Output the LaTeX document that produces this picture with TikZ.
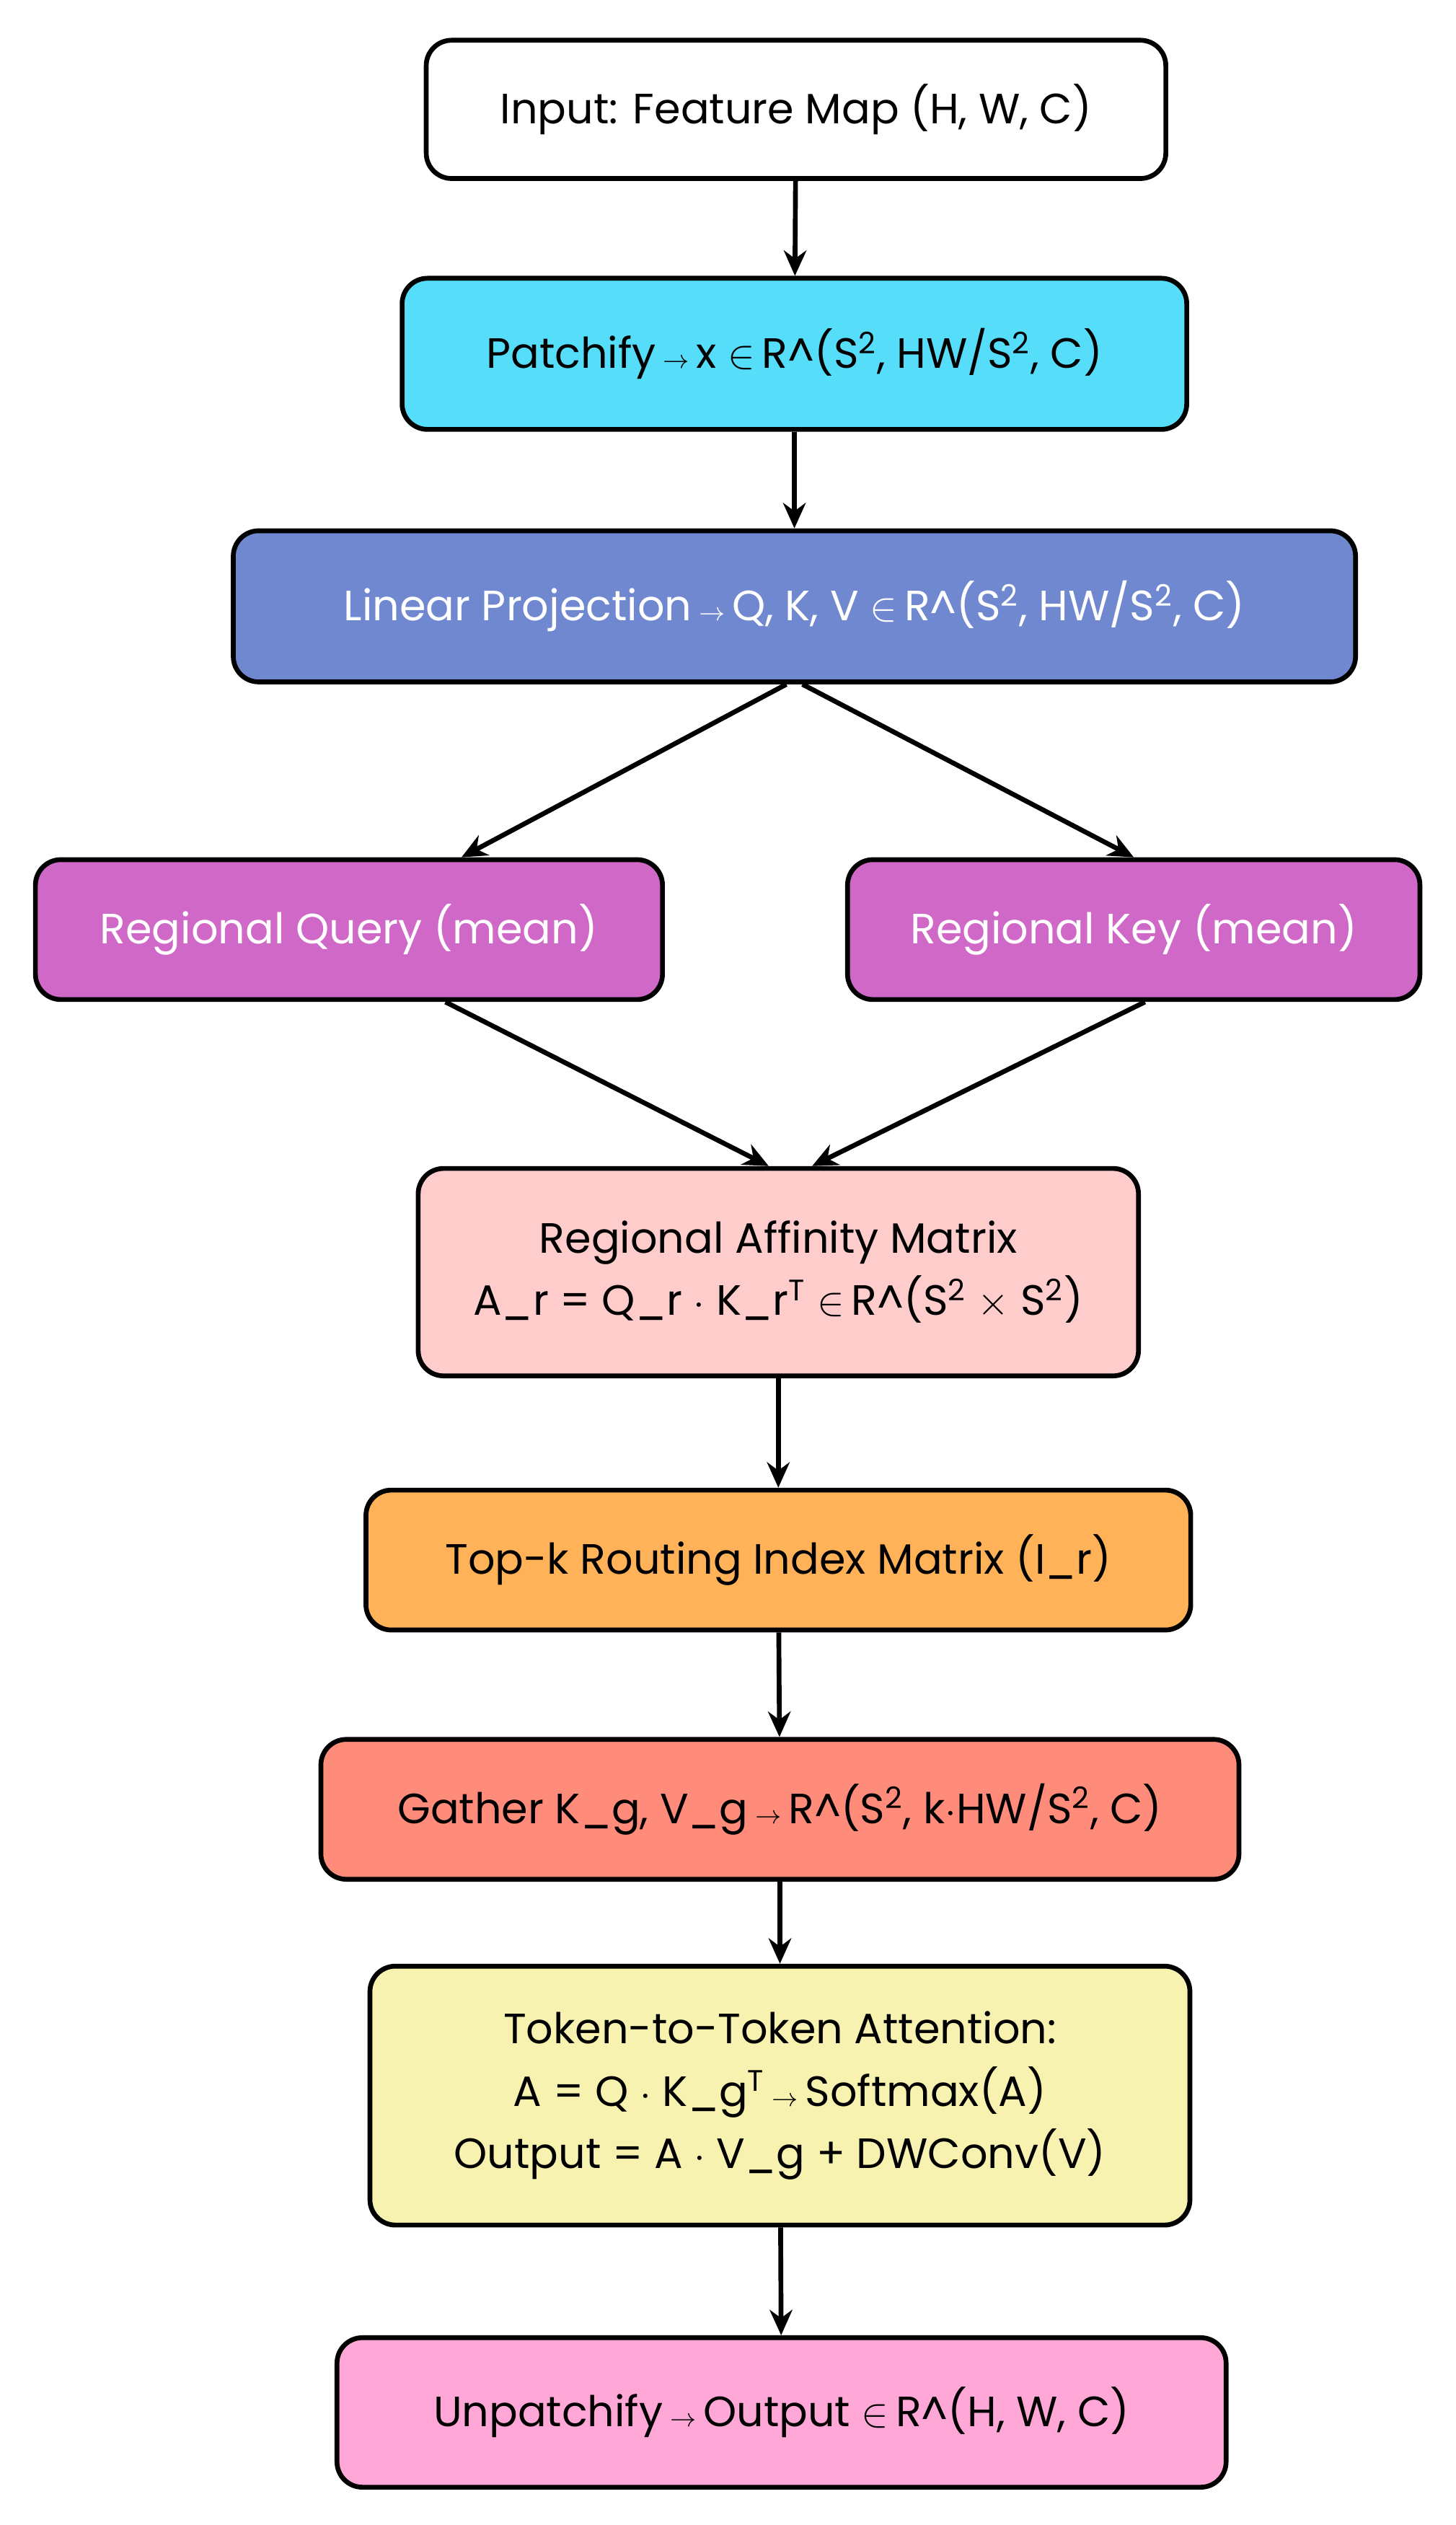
\documentclass[tikz,border=0pt]{standalone}
\usepackage{fontspec}
\setmainfont{Poppins}
\usetikzlibrary{arrows.meta}
\definecolor{cPatch}{HTML}{55DDF9}
\definecolor{cLin}{HTML}{7088D0}
\definecolor{cReg}{HTML}{D068C8}
\definecolor{cAff}{HTML}{FFCCCC}
\definecolor{cTop}{HTML}{FFB257}
\definecolor{cGat}{HTML}{FF8C7A}
\definecolor{cTok}{HTML}{F7F2B0}
\definecolor{cUnp}{HTML}{FFA8D8}
\newcommand{\sq}{S\textsuperscript{2}}
\newcommand{\ar}{\,{\small$\rightarrow$}\,}
\newcommand{\inR}{$\in$\,R\^{}}
\tikzset{
  box/.style={draw=black,line width=1.7pt,rounded corners=9pt,align=center,
    font=\fontsize{15}{22}\selectfont,inner sep=0pt},
  flow/.style={-{Stealth[length=9pt,width=8pt]},line width=1.7pt}
}
\begin{document}
\begin{tikzpicture}[x=0.02cm,y=-0.02cm]
    \useasboundingbox (0,0) rectangle (905,1570);

    % Boxes
    \node[box,fill=white,minimum width=9.2cm,minimum height=1.72cm] (inp) at (495,68)
        {Input: Feature Map (H, W, C)};
    \node[box,fill=cPatch,minimum width=9.76cm,minimum height=1.88cm] (patch) at (494,220)
        {Patchify\ar x \inR(\sq, HW/\sq, C)};
    \node[box,fill=cLin,text=white,minimum width=13.96cm,minimum height=1.88cm] (lin) at (494,377)
        {Linear Projection\ar Q, K, V \inR(\sq, HW/\sq, C)};
    \node[box,fill=cReg,text=white,minimum width=7.8cm,minimum height=1.74cm] (rq) at (217,578)
        {Regional Query (mean)};
    \node[box,fill=cReg,text=white,minimum width=7.12cm,minimum height=1.74cm] (rk) at (705,578)
        {Regional Key (mean)};
    \node[box,fill=cAff,minimum width=8.96cm,minimum height=2.58cm] (aff) at (484,791)
        {Regional Affinity Matrix\\A\_r = Q\_r $\cdot$ K\_r\textsuperscript{T} \inR(\sq{} $\times$ \sq)};
    \node[box,fill=cTop,minimum width=10.26cm,minimum height=1.74cm] (topk) at (484,970)
        {Top-k Routing Index Matrix (I\_r)};
    \node[box,fill=cGat,minimum width=11.42cm,minimum height=1.74cm] (gat) at (485,1125)
        {Gather K\_g, V\_g\ar R\^{}(\sq, k$\cdot$HW/\sq, C)};
    \node[box,fill=cTok,minimum width=10.2cm,minimum height=3.22cm] (tok) at (485,1303)
        {Token-to-Token Attention:\\A = Q $\cdot$ K\_g\textsuperscript{T}\ar Softmax(A)\\Output = A $\cdot$ V\_g + DWConv(V)};
    \node[box,fill=cUnp,minimum width=11.06cm,minimum height=1.86cm] (unp) at (486,1500)
        {Unpatchify\ar Output \inR(H, W, C)};

    % Connectors
    \draw[flow] (inp) -- (patch);
    \draw[flow] (patch) -- (lin);
    \draw[flow] ([xshift=-0.1cm]lin.south) -- ([xshift=1.4cm]rq.north);
    \draw[flow] ([xshift=0.1cm]lin.south) -- (rk.north);
    \draw[flow] ([xshift=1.2cm]rq.south) -- ([xshift=-0.12cm]aff.north);
    \draw[flow] ([xshift=0.14cm]rk.south) -- ([xshift=0.42cm]aff.north);
    \draw[flow] (aff) -- (topk);
    \draw[flow] (topk) -- (gat);
    \draw[flow] (gat) -- (tok);
    \draw[flow] (tok) -- (unp);
\end{tikzpicture}
\end{document}
